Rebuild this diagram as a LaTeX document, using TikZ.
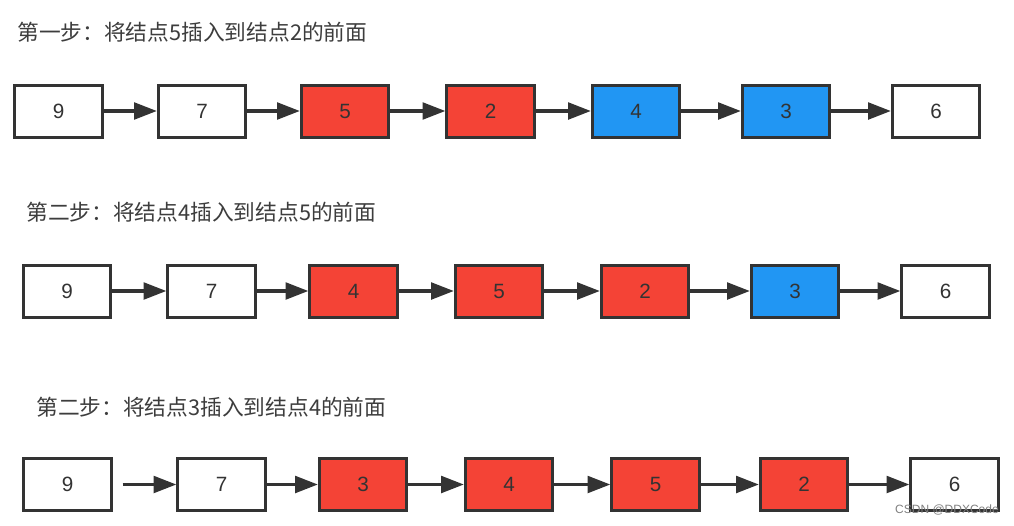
\documentclass[tikz,border=0pt]{standalone}
\usepackage{fontspec}
\setmainfont{Liberation Sans}
\newfontfamily\cjk{Noto Sans CJK SC}
\usetikzlibrary{arrows.meta}
\definecolor{ink}{HTML}{333333}
\definecolor{redbox}{HTML}{F44336}
\definecolor{bluebox}{HTML}{2196F3}
\tikzset{
  box/.style={draw=ink, line width=2.25pt, minimum width=65.5pt, minimum height=39pt,
    inner sep=0pt, font=\fontsize{15.5}{18}\selectfont, text=ink, fill=white},
  redn/.style={box, fill=redbox},
  bluen/.style={box, fill=bluebox},
  arr/.style={draw=ink, line width=2.3pt, -{Triangle[length=17pt,width=12.5pt]}},
  title/.style={anchor=west, inner sep=0pt, font=\cjk\fontsize{16.3}{19}\selectfont, text=ink!95},
  wm/.style={anchor=east, inner sep=0pt, font=\fontsize{9}{10}\selectfont, text=black!50}
}
\begin{document}
\begin{tikzpicture}[x=0.75pt,y=-0.75pt]
\useasboundingbox (0,0) rectangle (1014,525);
% Row 1
\node[title] (t1) at (17,32) {第一步：将结点5插入到结点2的前面};
\node[box]   (a1) at (58.5,111) {9};
\node[box]   (a2) at (202,111) {7};
\node[redn]  (a3) at (345,111) {5};
\node[redn]  (a4) at (490.5,111) {2};
\node[bluen] (a5) at (636,111) {4};
\node[bluen] (a6) at (786,111) {3};
\node[box]   (a7) at (936,111) {6};
\foreach \i/\j in {a1/a2,a2/a3,a3/a4,a4/a5,a5/a6,a6/a7} \draw[arr] (\i) -- (\j);
% Row 2
\node[title] (t2) at (26,212) {第二步：将结点4插入到结点5的前面};
\node[box]   (b1) at (67,291) {9};
\node[box]   (b2) at (211.5,291) {7};
\node[redn]  (b3) at (353.5,291) {4};
\node[redn]  (b4) at (499,291) {5};
\node[redn]  (b5) at (645,291) {2};
\node[bluen] (b6) at (795,291) {3};
\node[box]   (b7) at (945.5,291) {6};
\foreach \i/\j in {b1/b2,b2/b3,b3/b4,b4/b5,b5/b6,b6/b7} \draw[arr] (\i) -- (\j);
% Row 3
\node[title] (t3) at (36,407) {第二步：将结点3插入到结点4的前面};
\node[box]   (c1) at (67.5,484.5) {9};
\node[box]   (c2) at (221.5,484.5) {7};
\node[redn]  (c3) at (363,484.5) {3};
\node[redn]  (c4) at (509,484.5) {4};
\node[redn]  (c5) at (655.5,484.5) {5};
\node[redn]  (c6) at (804,484.5) {2};
\node[box]   (c7) at (954.5,484.5) {6};
\draw[arr, shorten <=7.5pt] (c1) -- (c2);
\foreach \i/\j in {c2/c3,c3/c4,c4/c5,c5/c6,c6/c7} \draw[arr] (\i) -- (\j);
\node[wm] (w) at (999,510) {CSDN @DDXCode};
\end{tikzpicture}
\end{document}
